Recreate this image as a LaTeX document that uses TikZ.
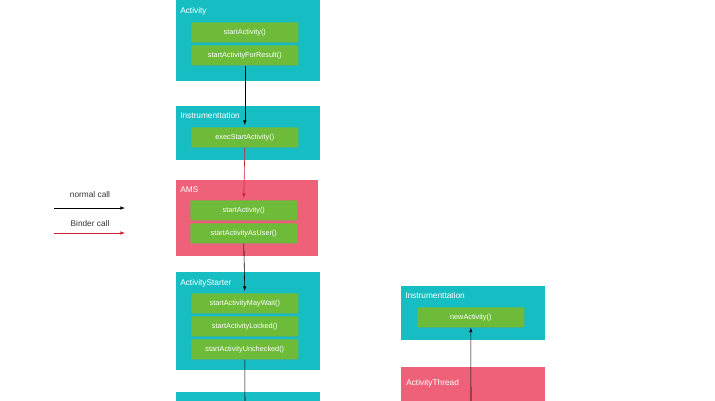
\documentclass[tikz,border=0pt]{standalone}
\usepackage{fontspec}
\setmainfont{Liberation Sans}
\usetikzlibrary{shadows}
\definecolor{boxcyan}{RGB}{22,190,196}
\definecolor{boxpink}{RGB}{239,97,121}
\definecolor{methgreen}{RGB}{110,187,58}
\definecolor{bindred}{RGB}{205,30,55}
\tikzset{
  cls/.style={fill=#1, anchor=north west, inner sep=0pt, minimum width=144pt},
  clslabel/.style={anchor=west, inner sep=0pt, text=white, font=\fontsize{8.3}{10}\selectfont},
  meth/.style={fill=methgreen, anchor=north west, inner sep=0pt, minimum width=107pt, minimum height=20pt,
    text=white, font=\fontsize{7.3}{9}\selectfont, rounded corners=1pt,
    drop shadow={shadow xshift=0pt, shadow yshift=-1pt, opacity=0.2}},
  legend/.style={inner sep=0pt, text=black!80, font=\fontsize{8.3}{10}\selectfont},
}
\begin{document}
\begin{tikzpicture}[x=1pt, y=-1pt, >=latex, line width=0.6pt]
\useasboundingbox (0,0) rectangle (715,400);
\clip (0,0) rectangle (715,400);

\node[cls=boxcyan, minimum height=81pt] (activity) at (176,0) {};
\node[cls=boxcyan, minimum height=54pt] (instr) at (176,106) {};
\node[cls=boxpink, minimum height=76pt, minimum width=142pt] (ams) at (176,180) {};
\node[cls=boxcyan, minimum height=98pt] (starter) at (176,272) {};
\node[cls=boxcyan, minimum height=30pt] (next) at (176,392) {};
\node[cls=boxcyan, minimum height=54pt] (instrb) at (401,286) {};
\node[cls=boxpink, minimum height=50pt] (thread) at (401,367) {};

\node[clslabel] (activitylbl) at (180,11) {Activity};
\node[clslabel] (instrlbl) at (180,116) {Instrumenttation};
\node[clslabel] (amslbl) at (180,190) {AMS};
\node[clslabel] (starterlbl) at (180,283) {ActivityStarter};
\node[clslabel] (instrblbl) at (405,296) {Instrumenttation};
\node[clslabel] (threadlbl) at (406,383) {ActivityThread};

\node[meth] (start) at (191,22) {startActivity()};
\node[meth] (forresult) at (191,45) {startActivityForResult()};
\node[meth] (exec) at (191,127) {execStartActivity()};
\node[meth] (amsstart) at (190,200) {startActivity()};
\node[meth] (asuser) at (190,223) {startActivityAsUser()};
\node[meth] (maywait) at (191,293) {startActivityMayWait()};
\node[meth] (locked) at (191,316) {startActivityLocked()};
\node[meth] (unchecked) at (191,339) {startActivityUnchecked()};
\node[meth] (newact) at (417,307) {newActivity()};

\coordinate (nextin) at (245,410);
\coordinate (threadin) at (471,410);

\draw[->, shorten >=2pt] (forresult.south) -- (exec.north);
\draw[->, bindred, shorten >=2pt] (exec.south) -- (amsstart.north);
\draw[->, shorten >=2pt] (asuser.south) -- (maywait.north);
\draw (unchecked.south) -- (nextin);
\draw[->] (threadin) -- (newact.south);

\node[legend] (normallbl) at (90,195) {normal call};
\node[legend] (binderlbl) at (90,224) {Binder call};
\coordinate (n1) at (54,208);
\coordinate (n2) at (125,208);
\coordinate (b1) at (54,233);
\coordinate (b2) at (125,233);
\draw[->] (n1) -- (n2);
\draw[->, bindred] (b1) -- (b2);
\end{tikzpicture}
\end{document}
